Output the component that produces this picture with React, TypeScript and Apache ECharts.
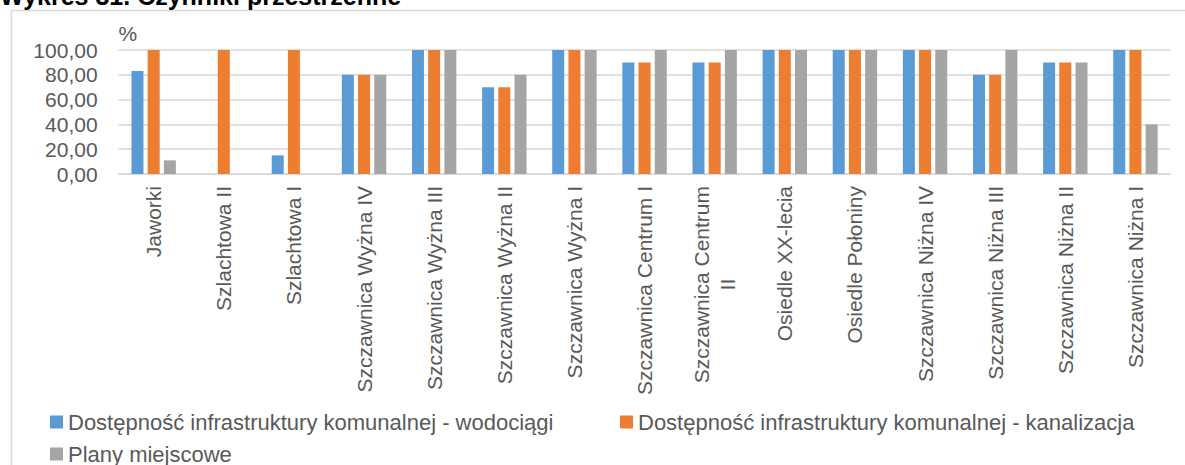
import React, { useEffect, useRef } from "react";
import * as echarts from "echarts";

const categories: string[] = [
  "Jaworki",
  "Szlachtowa II",
  "Szlachtowa I",
  "Szczawnica Wyżna IV",
  "Szczawnica Wyżna III",
  "Szczawnica Wyżna II",
  "Szczawnica Wyżna I",
  "Szczawnica Centrum I",
  "Szczawnica Centrum II",
  "Osiedle XX-lecia",
  "Osiedle Połoniny",
  "Szczawnica Niżna IV",
  "Szczawnica Niżna III",
  "Szczawnica Niżna II",
  "Szczawnica Niżna I",
];

const wodociagi: number[] = [83, 0, 15, 80, 100, 70, 100, 90, 90, 100, 100, 100, 80, 90, 100];
const kanalizacja: number[] = [100, 100, 100, 80, 100, 70, 100, 90, 90, 100, 100, 100, 80, 90, 100];
const plany: number[] = [11, 0, 0, 80, 100, 80, 100, 100, 100, 100, 100, 100, 100, 90, 40];

const seriesNames: string[] = [
  "Dostępność infrastruktury komunalnej - wodociągi",
  "Dostępność infrastruktury komunalnej - kanalizacja",
  "Plany miejscowe",
];

const yTicks = { min: 0, max: 100, interval: 20 };
const titleText = "Wykres 31. Czynniki przestrzenne";
const unitText = "%";

const FONT = "'Liberation Sans', Arial, sans-serif";
const TXT = "#595959";
const COLORS = ["#5B9BD5", "#ED7D31", "#A5A5A5"];

export default function App() {
  const ref = useRef<HTMLDivElement>(null);

  useEffect(() => {
    if (!ref.current) return;
    const chart = echarts.init(ref.current, null, { renderer: "svg" });

    const legendCommon = {
      icon: "rect",
      itemWidth: 13,
      itemHeight: 13,
      textStyle: { color: TXT, fontSize: 22, fontFamily: FONT },
    };

    chart.setOption({
      animation: false,
      backgroundColor: "#ffffff",
      textStyle: { fontFamily: FONT },
      color: COLORS,
      graphic: [
        {
          type: "rect",
          shape: { x: 11.5, y: 10.5, width: 1300, height: 600 },
          style: { fill: "none", stroke: "#d9d9d9", lineWidth: 1.5 },
          silent: true,
        },
        {
          type: "text",
          left: 0,
          top: -17,
          style: {
            text: titleText,
            fontSize: 25,
            fontWeight: "bold",
            fontFamily: FONT,
            fill: "#000000",
          },
          silent: true,
        },
      ],
      legend: [
        { ...legendCommon, data: [seriesNames[0]], left: 45, top: 406 },
        { ...legendCommon, data: [seriesNames[1]], left: 615, top: 406 },
        { ...legendCommon, data: [seriesNames[2]], left: 45, top: 438 },
      ],
      grid: { left: 118.6, right: 14.5, top: 50, height: 124, containLabel: false },
      xAxis: {
        type: "category",
        data: categories,
        axisLine: { show: true, lineStyle: { color: "#d9d9d9", width: 1.5 } },
        axisTick: { show: false },
        axisLabel: {
          interval: 0,
          rotate: 90,
          margin: 12,
          color: TXT,
          fontSize: 21,
          fontFamily: FONT,
          formatter: (v: string) => {
            if (v.length > 20) {
              const i = v.lastIndexOf(" ");
              return `{a|${v.slice(0, i)}}\n{b|${v.slice(i + 1)}}`;
            }
            return v;
          },
          rich: {
            a: { color: TXT, fontSize: 21, fontFamily: FONT, lineHeight: 26 },
            b: { color: TXT, fontSize: 21, fontFamily: FONT, lineHeight: 26, align: "center" },
          },
        },
      },
      yAxis: {
        type: "value",
        min: yTicks.min,
        max: yTicks.max,
        interval: yTicks.interval,
        name: unitText,
        nameLocation: "end",
        nameGap: 17,
        nameTextStyle: {
          color: TXT,
          fontSize: 21,
          fontFamily: FONT,
          align: "left",
          verticalAlign: "middle",
        },
        axisLine: { show: false },
        axisTick: { show: false },
        axisLabel: {
          margin: 21,
          color: TXT,
          fontSize: 21,
          fontFamily: FONT,
          formatter: (v: number) => v.toFixed(2).replace(".", ","),
        },
        splitLine: { lineStyle: { color: "#d9d9d9", width: 1.5 } },
      },
      series: [
        { name: seriesNames[0], type: "bar", data: wodociagi, barWidth: 12, barGap: "35%" },
        { name: seriesNames[1], type: "bar", data: kanalizacja, barWidth: 12, barGap: "35%" },
        { name: seriesNames[2], type: "bar", data: plany, barWidth: 12, barGap: "35%" },
      ],
    });

    return () => chart.dispose();
  }, []);

  return (
    <div
      ref={ref}
      style={{ position: "absolute", left: 0, top: 0, width: 1185, height: 465 }}
    />
  );
}
